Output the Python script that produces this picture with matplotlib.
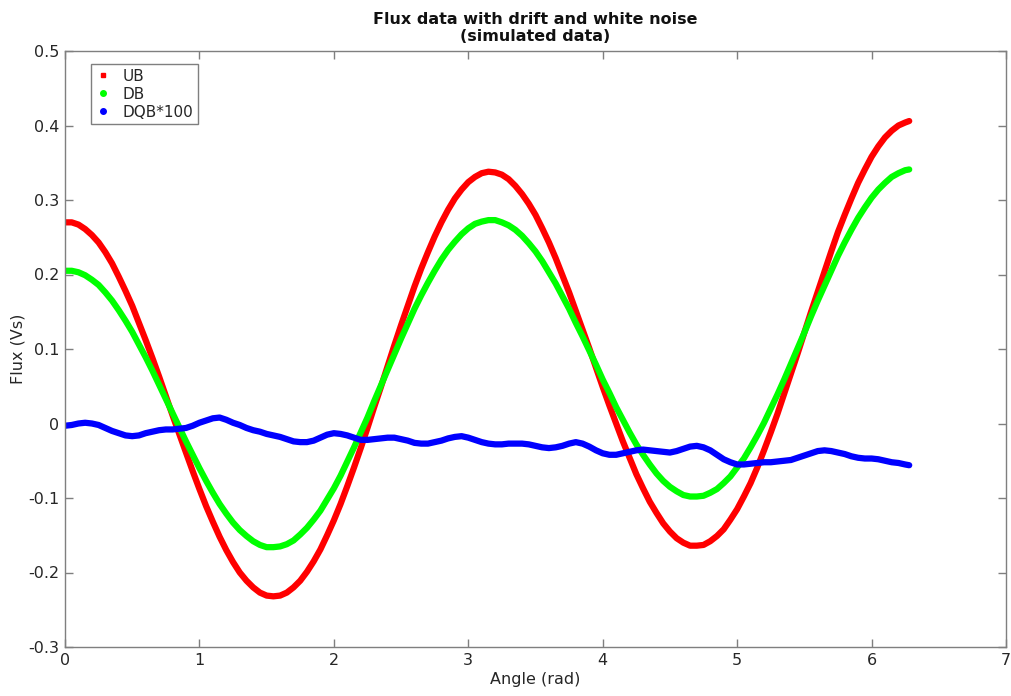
import matplotlib
matplotlib.use("Agg")
import matplotlib.pyplot as plt
from matplotlib.lines import Line2D

angle = [0.00, 0.05, 0.10, 0.15, 0.20, 0.25, 0.30, 0.35, 0.40, 0.45,
         0.50, 0.55, 0.60, 0.65, 0.70, 0.75, 0.80, 0.85, 0.90, 0.95,
         1.00, 1.05, 1.10, 1.15, 1.20, 1.25, 1.30, 1.35, 1.40, 1.45,
         1.50, 1.55, 1.60, 1.65, 1.70, 1.75, 1.80, 1.85, 1.90, 1.95,
         2.00, 2.05, 2.10, 2.15, 2.20, 2.25, 2.30, 2.35, 2.40, 2.45,
         2.50, 2.55, 2.60, 2.65, 2.70, 2.75, 2.80, 2.85, 2.90, 2.95,
         3.00, 3.05, 3.10, 3.15, 3.20, 3.25, 3.30, 3.35, 3.40, 3.45,
         3.50, 3.55, 3.60, 3.65, 3.70, 3.75, 3.80, 3.85, 3.90, 3.95,
         4.00, 4.05, 4.10, 4.15, 4.20, 4.25, 4.30, 4.35, 4.40, 4.45,
         4.50, 4.55, 4.60, 4.65, 4.70, 4.75, 4.80, 4.85, 4.90, 4.95,
         5.00, 5.05, 5.10, 5.15, 5.20, 5.25, 5.30, 5.35, 5.40, 5.45,
         5.50, 5.55, 5.60, 5.65, 5.70, 5.75, 5.80, 5.85, 5.90, 5.95,
         6.00, 6.05, 6.10, 6.15, 6.20, 6.25, 6.28]

ub = [0.270, 0.270, 0.267, 0.261, 0.253, 0.243, 0.230, 0.215, 0.197, 0.178,
      0.158, 0.135, 0.112, 0.088, 0.063, 0.037, 0.011, -0.014, -0.039, -0.064,
      -0.088, -0.111, -0.132, -0.152, -0.170, -0.186, -0.200, -0.211, -0.220, -0.227,
      -0.231, -0.232, -0.231, -0.227, -0.220, -0.211, -0.199, -0.185, -0.169, -0.150,
      -0.130, -0.108, -0.084, -0.059, -0.033, -0.006, 0.022, 0.049, 0.077, 0.105,
      0.132, 0.158, 0.184, 0.208, 0.230, 0.251, 0.270, 0.287, 0.302, 0.314,
      0.324, 0.331, 0.336, 0.338, 0.337, 0.334, 0.328, 0.319, 0.308, 0.295,
      0.280, 0.262, 0.243, 0.222, 0.199, 0.176, 0.151, 0.126, 0.101, 0.075,
      0.049, 0.024, 0.000, -0.024, -0.046, -0.068, -0.087, -0.105, -0.120, -0.134,
      -0.145, -0.154, -0.160, -0.164, -0.164, -0.163, -0.158, -0.151, -0.142, -0.129,
      -0.115, -0.098, -0.080, -0.059, -0.036, -0.012, 0.013, 0.040, 0.067, 0.094,
      0.122, 0.150, 0.177, 0.204, 0.231, 0.257, 0.280, 0.302, 0.323, 0.341,
      0.358, 0.372, 0.384, 0.393, 0.400, 0.404, 0.406]

db = [0.205, 0.205, 0.203, 0.199, 0.193, 0.186, 0.176, 0.165, 0.152, 0.138,
      0.123, 0.106, 0.089, 0.071, 0.052, 0.033, 0.014, -0.005, -0.024, -0.042,
      -0.060, -0.077, -0.093, -0.108, -0.121, -0.133, -0.143, -0.151, -0.158, -0.163,
      -0.166, -0.166, -0.165, -0.162, -0.157, -0.149, -0.140, -0.129, -0.117, -0.102,
      -0.087, -0.070, -0.051, -0.032, -0.012, 0.008, 0.030, 0.051, 0.072, 0.093,
      0.114, 0.134, 0.154, 0.172, 0.189, 0.205, 0.220, 0.233, 0.244, 0.254,
      0.262, 0.268, 0.271, 0.273, 0.273, 0.270, 0.266, 0.260, 0.252, 0.242,
      0.231, 0.218, 0.203, 0.188, 0.171, 0.154, 0.135, 0.117, 0.098, 0.079,
      0.059, 0.041, 0.022, 0.005, -0.012, -0.028, -0.042, -0.055, -0.067, -0.077,
      -0.085, -0.091, -0.096, -0.098, -0.098, -0.097, -0.093, -0.088, -0.080, -0.071,
      -0.059, -0.047, -0.032, -0.016, 0.001, 0.020, 0.039, 0.059, 0.080, 0.101,
      0.122, 0.144, 0.165, 0.185, 0.205, 0.225, 0.243, 0.260, 0.276, 0.290,
      0.303, 0.314, 0.323, 0.331, 0.336, 0.340, 0.341]

dqb100 = [-0.003, -0.002, 0.000, 0.001, 0.000, -0.002, -0.006, -0.010, -0.013, -0.016,
          -0.017, -0.016, -0.013, -0.011, -0.009, -0.008, -0.008, -0.007, -0.006, -0.003,
          0.001, 0.004, 0.007, 0.008, 0.005, 0.001, -0.002, -0.006, -0.009, -0.011,
          -0.014, -0.016, -0.018, -0.021, -0.024, -0.025, -0.025, -0.023, -0.019, -0.015,
          -0.013, -0.014, -0.016, -0.019, -0.022, -0.022, -0.021, -0.020, -0.019, -0.019,
          -0.021, -0.023, -0.026, -0.027, -0.027, -0.025, -0.023, -0.020, -0.018, -0.017,
          -0.019, -0.022, -0.025, -0.027, -0.028, -0.028, -0.027, -0.027, -0.027, -0.028,
          -0.030, -0.032, -0.033, -0.032, -0.030, -0.027, -0.025, -0.027, -0.031, -0.036,
          -0.040, -0.042, -0.042, -0.040, -0.038, -0.036, -0.035, -0.036, -0.037, -0.038,
          -0.039, -0.037, -0.034, -0.031, -0.030, -0.032, -0.036, -0.042, -0.048, -0.052,
          -0.055, -0.055, -0.054, -0.053, -0.052, -0.052, -0.051, -0.050, -0.049, -0.046,
          -0.043, -0.040, -0.037, -0.036, -0.037, -0.039, -0.041, -0.044, -0.046, -0.047,
          -0.047, -0.048, -0.050, -0.052, -0.053, -0.055, -0.056]

labels = ["UB", "DB", "DQB*100"]
colors = ["#ff0000", "#00ff00", "#0000ff"]

fig = plt.figure(figsize=(10.12, 6.96), dpi=100)
ax = fig.add_axes([65 / 1012, 49 / 696, 941 / 1012, 596 / 696])

for y, c in zip([ub, db, dqb100], colors):
    ax.plot(angle, y, color=c, lw=4.5, solid_capstyle="round", solid_joinstyle="round")

ax.set_xlim(0, 7)
ax.set_ylim(-0.3, 0.5)
ax.set_xticks(range(0, 8))
ax.set_yticks([-0.3, -0.2, -0.1, 0, 0.1, 0.2, 0.3, 0.4, 0.5])
ax.set_yticklabels(["-0.3", "-0.2", "-0.1", "0", "0.1", "0.2", "0.3", "0.4", "0.5"])

for s in ax.spines.values():
    s.set_color("#7f7f7f")
    s.set_linewidth(1.0)
ax.tick_params(direction="in", top=True, right=True, length=6, width=1,
               color="#7f7f7f", labelsize=11.5, labelcolor="#262626", pad=4)

ax.set_xlabel("Angle (rad)", fontsize=11.5, color="#262626", labelpad=3)
ax.set_ylabel("Flux (Vs)", fontsize=11.5, color="#262626", labelpad=2)
ax.set_title("Flux data with drift and white noise\n(simulated data)",
             fontsize=11.5, fontweight="bold", color="#111111", pad=7, linespacing=1.2)

handles = [
    Line2D([], [], color=colors[0], marker="s", ms=3.5, ls="none"),
    Line2D([], [], color=colors[1], marker="o", ms=4, ls="none"),
    Line2D([], [], color=colors[2], marker="o", ms=4, ls="none"),
]
leg = ax.legend(handles, labels, loc="upper left", bbox_to_anchor=(0.0275, 0.978),
                borderaxespad=0, fancybox=False, fontsize=11, labelspacing=0.2,
                handlelength=1.0, handletextpad=0.8, borderpad=0.3, framealpha=1)
leg.get_frame().set_edgecolor("#7f7f7f")
leg.get_frame().set_linewidth(1.0)
for t in leg.get_texts():
    t.set_color("#262626")

fig.savefig("out.png", dpi=100)
